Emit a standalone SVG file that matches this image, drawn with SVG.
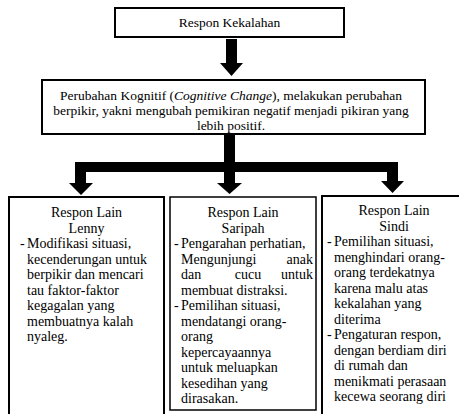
<svg xmlns="http://www.w3.org/2000/svg" width="459" height="414" viewBox="0 0 459 414">
<style>
.box{fill:#fff;stroke:#000;stroke-width:2}
.thin{stroke-width:1.5}
text{font-family:"Liberation Serif","Times New Roman",serif;font-size:14px;fill:#000}
.c{text-anchor:middle}
.e{text-anchor:end}
.t{font-size:13.5px}
</style>
<rect width="459" height="414" fill="#fff"/>
<g id="connectors" fill="#000">
<polygon points="226,39 237,39 237,63 243,63 231.5,76 220,63 226,63"/>
<polygon points="224,134 235,134 235,162 398,162 398,181 404,181 392.5,193 381,181 387,181 387,172 235,172 235,183 242,183 229.5,194 217,183 224,183 224,172 86,172 86,183 93,183 81,195 69,183 75,183 75,162 224,162"/>
</g>
<g id="n-top">
<rect class="box" x="115" y="8" width="229" height="29"/>
<text class="c t" x="229.5" y="27">Respon Kekalahan</text>
</g>
<g id="n-mid">
<rect class="box" x="42" y="80" width="383" height="54"/>
<text class="c t" x="231" y="100">Perubahan Kognitif (<tspan font-style="italic">Cognitive Change</tspan>), melakukan perubahan</text>
<text class="c t" x="231" y="115">berpikir, yakni mengubah pemikiran negatif menjadi pikiran yang</text>
<text class="c t" x="231" y="130">lebih positif.</text>
</g>
<g id="n-lenny">
<rect class="box" x="9" y="197" width="155" height="230"/>
<text class="c" x="86.5" y="217">Respon Lain</text>
<text class="c" x="86.5" y="232.5">Lenny</text>
<text x="20" y="248">-</text>
<text x="27" y="248">Modifikasi situasi,</text>
<text x="27" y="263.5">kecenderungan untuk</text>
<text x="27" y="279">berpikir dan mencari</text>
<text x="27" y="294.5">tau faktor-faktor</text>
<text x="27" y="310">kegagalan yang</text>
<text x="27" y="325.5">membuatnya kalah</text>
<text x="27" y="341">nyaleg.</text>
</g>
<g id="n-saripah">
<rect class="box thin" x="170" y="197" width="146" height="213"/>
<text class="c" x="243" y="217">Respon Lain</text>
<text class="c" x="243" y="232.5">Saripah</text>
<text x="174" y="248">-</text>
<text x="181" y="248">Pengarahan perhatian,</text>
<text x="181" y="263.5">Mengunjungi</text>
<text class="e" x="313" y="263.5">anak</text>
<text x="181" y="279">dan</text>
<text class="c" x="248" y="279">cucu</text>
<text class="e" x="313" y="279">untuk</text>
<text x="181" y="294.5">membuat distraksi.</text>
<text x="174" y="310">-</text>
<text x="181" y="310">Pemilihan situasi,</text>
<text x="181" y="325.5">mendatangi orang-</text>
<text x="181" y="341">orang</text>
<text x="181" y="356.5">kepercayaannya</text>
<text x="181" y="372">untuk meluapkan</text>
<text x="181" y="387.5">kesedihan yang</text>
<text x="181" y="403">dirasakan.</text>
</g>
<g id="n-sindi">
<rect class="box" x="322" y="196" width="145" height="230"/>
<text class="c" x="394" y="215">Respon Lain</text>
<text class="c" x="394" y="230.5">Sindi</text>
<text x="327" y="246">-</text>
<text x="334" y="246">Pemilihan situasi,</text>
<text x="334" y="261.5">menghindari orang-</text>
<text x="334" y="277">orang terdekatnya</text>
<text x="334" y="292.5">karena malu atas</text>
<text x="334" y="308">kekalahan yang</text>
<text x="334" y="323.5">diterima</text>
<text x="327" y="339">-</text>
<text x="334" y="339">Pengaturan respon,</text>
<text x="334" y="354.5">dengan berdiam diri</text>
<text x="334" y="370">di rumah dan</text>
<text x="334" y="385.5">menikmati perasaan</text>
<text x="334" y="401">kecewa seorang diri</text>
</g>
</svg>
